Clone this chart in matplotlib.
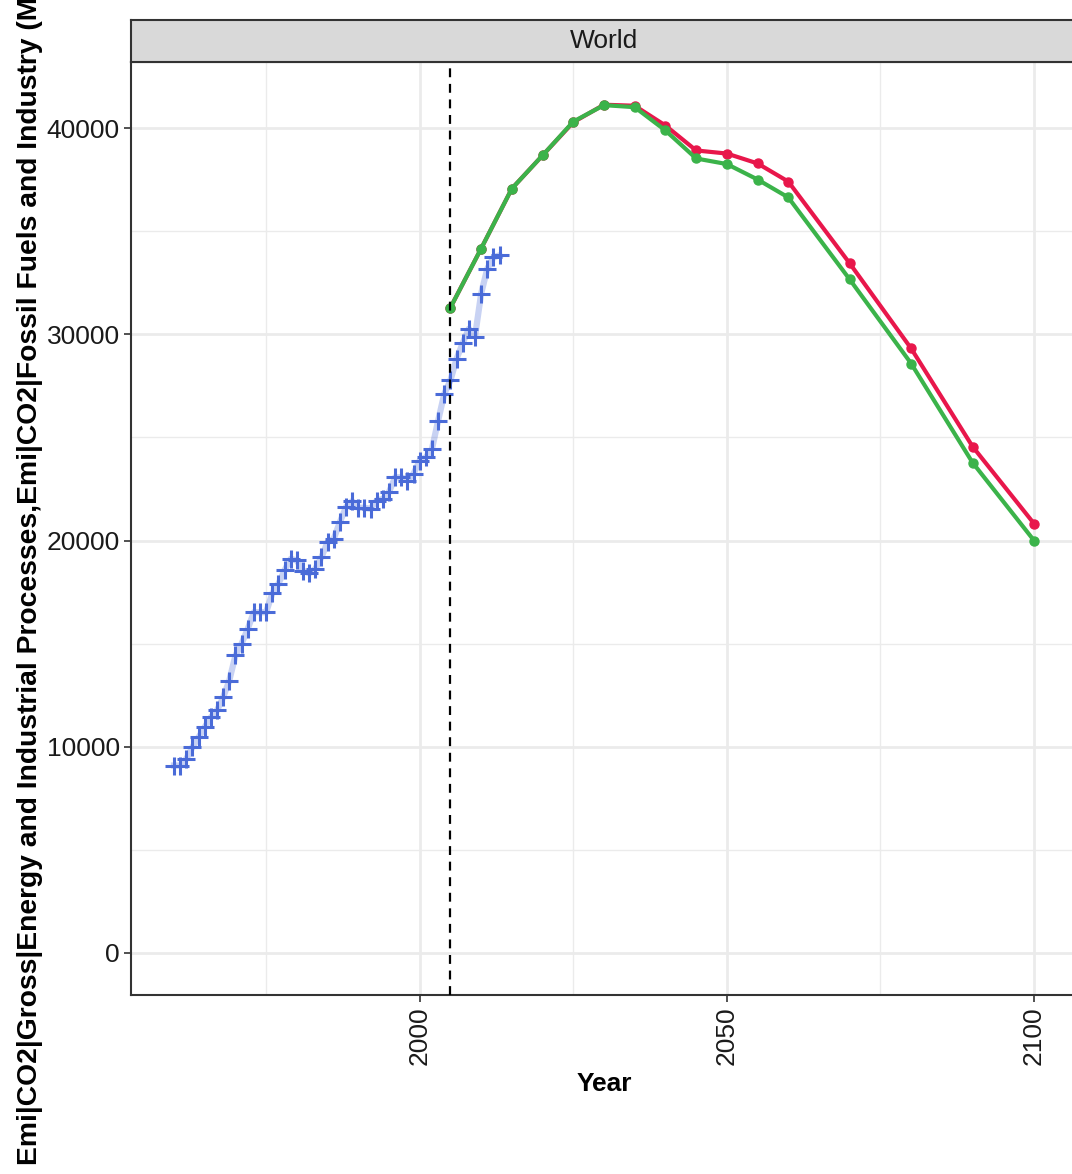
import matplotlib
matplotlib.use("Agg")
import matplotlib.pyplot as plt
import numpy as np

plt.rcParams['font.family'] = ['Liberation Sans', 'DejaVu Sans']

# historical emissions (Mt CO2/yr)
hist_years = list(range(1960, 2014))
hist_values = [9080, 9080, 9400, 9970, 10450, 10940, 11420, 11750, 12390, 13200,
               14420, 14990, 15710, 16520, 16520, 16520, 17430, 17900, 18560, 19110,
               19030, 18540, 18410, 18620, 19190, 19920, 20080, 20890, 21620, 21910,
               21590, 21590, 21540, 21940, 22020, 22350, 23070, 23070, 22910, 23240,
               23880, 24040, 24450, 25820, 27120, 27770, 28820, 29580, 30280, 29900,
               31980, 33190, 33750, 33840]

# model scenarios
model_years = [2005, 2010, 2015, 2020, 2025, 2030, 2035, 2040, 2045, 2050,
               2055, 2060, 2070, 2080, 2090, 2100]
red_values = [31300, 34170, 37080, 38690, 40300, 41150, 41100, 40140, 38930, 38780,
              38300, 37420, 33450, 29320, 24560, 20820]
green_values = [31300, 34170, 37080, 38690, 40330, 41130, 41030, 39900, 38540, 38270,
                37520, 36650, 32670, 28590, 23780, 20000]

W, H = 1072, 1174
fig = plt.figure(figsize=(W / 100, H / 100), dpi=100)
left, right, top, bottom = 131, 1077, 62, 995
ax = fig.add_axes([left / W, 1 - bottom / H, (right - left) / W, (bottom - top) / H])

ax.set_xlim(1953, 2107)
ax.set_ylim(-2058, 43223)

# grid like theme_bw
ax.set_xticks([2000, 2050, 2100])
ax.set_xticks([1975, 2025, 2075], minor=True)
ax.set_yticks([0, 10000, 20000, 30000, 40000])
ax.set_yticks([5000, 15000, 25000, 35000], minor=True)
ax.grid(which='major', color='#EBEBEB', linewidth=2.0)
ax.grid(which='minor', color='#EBEBEB', linewidth=1.0)
ax.set_axisbelow(True)
ax.tick_params(which='minor', length=0)
ax.tick_params(which='major', length=5, width=1.2, color='#333333',
               labelsize=19, labelcolor='#1a1a1a', pad=3)
ax.tick_params(axis='x', labelrotation=90)
for s in ax.spines.values():
    s.set_color('#333333')
    s.set_linewidth(1.5)

ax.plot(hist_years, hist_values, color='#4A6BD8', alpha=0.3, linewidth=4.5, zorder=2)
ax.plot(hist_years, hist_values, linestyle='none', marker='+', markersize=13,
        markeredgewidth=2.2, color='#4A6BD8', zorder=3)

ax.plot(model_years, red_values, color='#E8174B', linewidth=3, marker='o',
        markersize=6.5, zorder=4)
ax.plot(model_years, green_values, color='#3BB34A', linewidth=3, marker='o',
        markersize=6.5, zorder=5)

ax.axvline(2005, color='black', linestyle=(0, (4, 3)), linewidth=1.6, zorder=6)

ax.set_xlabel("Year", fontsize=19, fontweight='bold', labelpad=5)

# facet strip
strip = fig.add_axes([left / W, 1 - top / H, (right - left) / W, 42 / H])
strip.set_facecolor('#D9D9D9')
strip.set_xticks([])
strip.set_yticks([])
for s in strip.spines.values():
    s.set_color('#333333')
    s.set_linewidth(1.5)
strip.text(0.5, 0.5, "World", ha='center', va='center', fontsize=19,
           color='#1a1a1a', transform=strip.transAxes)

fig.text(30 / W, 1 - 1165 / H,
         "Emi|CO2|Gross|Energy and Industrial Processes,Emi|CO2|Fossil Fuels and Industry (Mt CO2/yr)",
         rotation=90, ha='center', va='bottom', fontsize=20.3, fontweight='bold',
         family=['Liberation Sans Narrow', 'Liberation Sans', 'DejaVu Sans'])

fig.savefig("out.png", dpi=100)
